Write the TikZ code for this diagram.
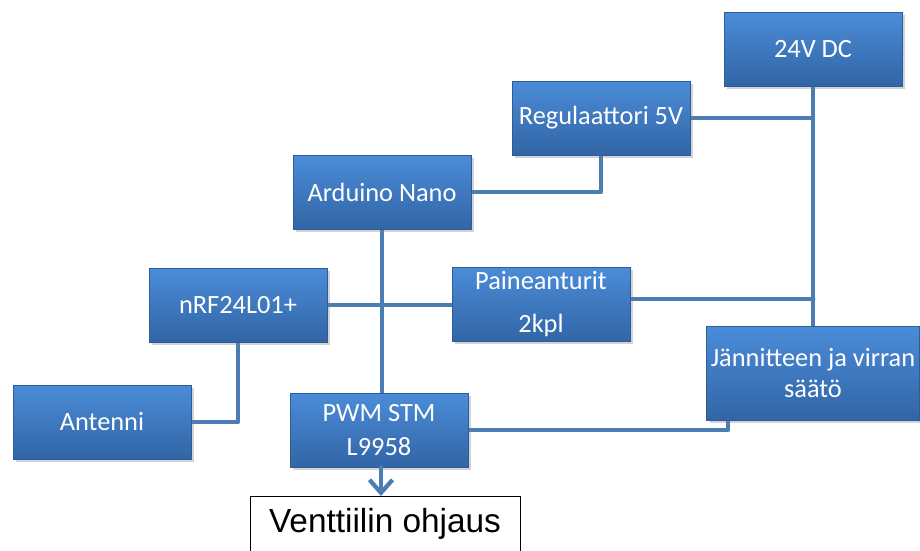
\documentclass[tikz,border=0pt]{standalone}
\usepackage{fontspec}
\setmainfont{Carlito}
\newfontfamily\arialfont{Liberation Sans}
\usetikzlibrary{arrows.meta,shadows,backgrounds}
\definecolor{boxtop}{HTML}{4B8CD8}
\definecolor{boxbot}{HTML}{3265A6}
\definecolor{boxedge}{HTML}{2C5C99}
\definecolor{wire}{HTML}{4C7CB4}
\begin{document}
\begin{tikzpicture}[x=0.02cm, y=-0.02cm,
    block/.style={rectangle, top color=boxtop, bottom color=boxbot, draw=boxedge,
      text=white, font=\fontsize{15}{18}\selectfont, align=center,
      minimum width=3.56cm, minimum height=1.48cm, inner sep=0pt,
      drop shadow={shadow xshift=0.6mm, shadow yshift=-0.6mm, opacity=0.35}},
    wire/.style={draw=wire, line width=2.4pt, line cap=round, line join=round},
    outbox/.style={rectangle, draw=black, fill=white, font=\arialfont\fontsize{19}{22}\selectfont,
      minimum width=5.4cm, minimum height=1.12cm, inner sep=0pt}]
  \useasboundingbox (0,0) rectangle (920,551);

  % Blocks
  \node[block] (dc) at (813,49) {24V DC};
  \node[block] (reg) at (601,118) {Regulaattori 5V};
  \node[block] (ard) at (382,192) {Arduino Nano};
  \node[block] (nrf) at (238,305) {nRF24L01+};
  \node[block] (pai) at (541,304) {Paineanturit\\[6pt]2kpl};
  \node[block] (ant) at (102,422) {Antenni};
  \node[block] (pwm) at (379,430) {PWM STM\\[1pt]L9958};
  \node[block, minimum width=4.26cm, minimum height=1.88cm] (jan) at (813,373)
    {J\"annitteen ja virran\\s\"a\"at\"o};

  % Output
  \node[outbox, anchor=north] (vent) at (385,496) {Venttiilin ohjaus};

  % Wires behind the blocks
  \begin{scope}[on background layer]
    \draw[wire] (dc) -- (jan);
    \draw[wire] (reg) -- (reg -| dc);
    \draw[wire] (reg) |- (ard);
    \draw[wire] (pai.east) ++(0,-5) -- ++(183,0);
    \draw[wire] (nrf) -- (nrf -| pai);
    \draw[wire] (nrf) |- (ant);
    \draw[wire] (pwm) -| ([xshift=-85*0.02cm]jan.south);
    \draw[wire] (ard) -- (ard |- pwm);
  \end{scope}
  \draw[wire, -{Straight Barb[length=2.6mm, width=4.6mm, line width=2.4pt]}]
    ([xshift=-0.02cm]ard.south |- pwm.south) -- ([xshift=-0.02cm]ard.south |- vent.north);
\end{tikzpicture}
\end{document}
